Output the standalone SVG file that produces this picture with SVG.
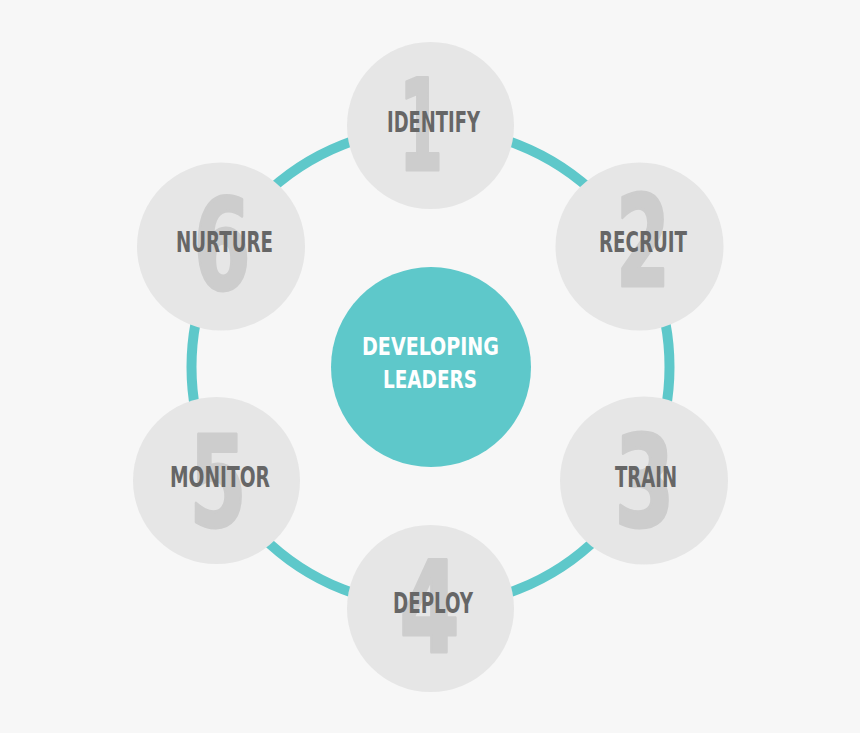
<svg xmlns="http://www.w3.org/2000/svg" width="860" height="733" viewBox="0 0 860 733">
<style>
.bg{fill:#f7f7f7}
.node{fill:#e6e6e6}
.num{fill:#cdcdcd;stroke:#cdcdcd;stroke-width:3;stroke-linejoin:round;font-family:"Liberation Sans Narrow","DejaVu Sans Condensed","Liberation Sans",sans-serif;font-weight:bold;font-size:126px;text-anchor:middle}
.lbl{fill:#666666;font-family:"Liberation Sans Narrow","DejaVu Sans Condensed","Liberation Sans",sans-serif;font-weight:bold;font-size:28px;text-anchor:middle}
.ctr{fill:#ffffff;font-family:"Liberation Sans Narrow","DejaVu Sans Condensed","Liberation Sans",sans-serif;font-weight:bold;font-size:25px;text-anchor:middle}
.ring{fill:none;stroke:#5ec8ca;stroke-width:10}
</style>
<rect class="bg" x="0" y="0" width="860" height="733"/>
<g id="connectors">
<circle class="ring" cx="430.5" cy="367" r="239"/>
</g>
<g id="center">
<circle cx="431" cy="367" r="100" fill="#5ec8ca"/>
<text class="ctr" x="430.5" y="355" textLength="137" lengthAdjust="spacingAndGlyphs">DEVELOPING</text>
<text class="ctr" x="430" y="388" textLength="94" lengthAdjust="spacingAndGlyphs">LEADERS</text>
</g>
<g id="node1">
<circle class="node" cx="430.5" cy="125.5" r="83.5"/>
<text class="num" x="421" y="170" textLength="44" lengthAdjust="spacingAndGlyphs">1</text>
<text class="lbl" x="433.5" y="132" textLength="93" lengthAdjust="spacingAndGlyphs">IDENTIFY</text>
</g>
<g id="node2">
<circle class="node" cx="639.5" cy="246.5" r="84"/>
<text class="num" x="643" y="286" textLength="54" lengthAdjust="spacingAndGlyphs">2</text>
<text class="lbl" x="643" y="252" textLength="88" lengthAdjust="spacingAndGlyphs">RECRUIT</text>
</g>
<g id="node3">
<circle class="node" cx="644" cy="480.5" r="84"/>
<text class="num" x="644.5" y="526" textLength="60" lengthAdjust="spacingAndGlyphs">3</text>
<text class="lbl" x="646" y="487" textLength="62" lengthAdjust="spacingAndGlyphs">TRAIN</text>
</g>
<g id="node4">
<circle class="node" cx="430.5" cy="608.5" r="83.5"/>
<text class="num" x="429.5" y="652" textLength="60" lengthAdjust="spacingAndGlyphs">4</text>
<text class="lbl" x="433" y="613" textLength="80" lengthAdjust="spacingAndGlyphs">DEPLOY</text>
</g>
<g id="node5">
<circle class="node" cx="216.5" cy="480.5" r="83.5"/>
<text class="num" x="218" y="526" textLength="57" lengthAdjust="spacingAndGlyphs">5</text>
<text class="lbl" x="220" y="487" textLength="100" lengthAdjust="spacingAndGlyphs">MONITOR</text>
</g>
<g id="node6">
<circle class="node" cx="221" cy="246.5" r="84"/>
<text class="num" x="222" y="289" textLength="57" lengthAdjust="spacingAndGlyphs">6</text>
<text class="lbl" x="224.5" y="252" textLength="97" lengthAdjust="spacingAndGlyphs">NURTURE</text>
</g>
</svg>
